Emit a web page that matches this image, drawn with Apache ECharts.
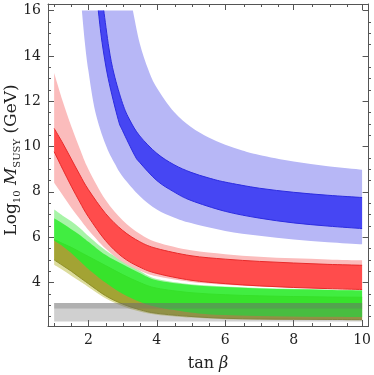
<!DOCTYPE html>
<html>
<head>
<meta charset="utf-8">
<script src="https://cdn.jsdelivr.net/npm/echarts@6/dist/echarts.min.js"></script>
<style>
html,body{margin:0;padding:0;background:#fff}
#chart{width:374px;height:375px}
</style>
</head>
<body>
<div id="chart"></div>
<script>
// tick positions
var xMajor = [2, 4, 6, 8, 10];
var xMinor = [1, 1.5, 2.5, 3, 3.5, 4.5, 5, 5.5, 6.5, 7, 7.5, 8.5, 9, 9.5];
var yMajor = [4, 6, 8, 10, 12, 14, 16];
var yMinor = [2.5, 3, 3.5, 4.5, 5, 5.5, 6.5, 7, 7.5, 8.5, 9, 9.5, 10.5, 11, 11.5, 12.5, 13, 13.5, 14.5, 15, 15.5];

// blue band (clipped at 16 on top)
var blueLightLowX = [1.81, 1.9, 2.0, 2.2, 2.5, 2.77, 3.0, 3.5, 4.0, 4.5, 5, 6, 7, 8, 9, 10];
var blueLightLowY = [16, 14.55, 13.35, 11.55, 10.1, 9.25, 8.68, 7.82, 7.22, 6.87, 6.62, 6.27, 6.06, 5.9, 5.78, 5.69];
var blueLightUpX = [3.3, 3.5, 3.75, 4.0, 4.5, 5, 5.5, 6, 6.5, 7, 8, 9, 10];
var blueLightUpY = [16, 14.56, 13.4, 12.59, 11.53, 10.86, 10.41, 10.08, 9.83, 9.63, 9.34, 9.13, 8.98];
var blueDarkLowX = [2.29, 2.4, 2.58, 2.87, 3.0, 3.35, 3.5, 4.0, 4.5, 5, 6, 7, 8, 9, 10];
var blueDarkLowY = [16, 14.6, 13.0, 11.2, 10.7, 9.62, 9.3, 8.5, 8.0, 7.62, 7.14, 6.84, 6.63, 6.49, 6.38];
var blueDarkUpX = [2.45, 2.6, 2.75, 3.0, 3.21, 3.5, 4.0, 4.5, 5, 5.5, 6, 7, 8, 9, 10];
var blueDarkUpY = [16, 14.35, 13.2, 11.9, 11.17, 10.47, 9.7, 9.2, 8.86, 8.62, 8.43, 8.16, 7.98, 7.85, 7.75];

// red, green, olive bands share these tan(beta) samples
var tanB = [1, 1.25, 1.5, 1.75, 2, 2.5, 3, 3.5, 4, 5, 6, 7, 8, 9, 10];
var redLightUp = [13.25, 12.0, 10.9, 9.9, 9.0, 7.65, 6.75, 6.15, 5.78, 5.42, 5.25, 5.14, 5.07, 5.02, 4.98];
var redDarkUp = [10.8, 10.15, 9.45, 8.75, 8.1, 7.05, 6.3, 5.8, 5.5, 5.18, 5.03, 4.93, 4.86, 4.8, 4.76];
var redDarkLow = [9.77, 9.0, 8.25, 7.55, 6.9, 5.85, 5.12, 4.68, 4.4, 4.1, 3.95, 3.85, 3.78, 3.73, 3.69];
var redLightLow = [8.4, 7.85, 7.3, 6.8, 6.32, 5.5, 4.9, 4.52, 4.27, 4.02, 3.9, 3.82, 3.76, 3.71, 3.68];

var greenLightUp = [7.22, 6.95, 6.7, 6.4, 6.05, 5.42, 4.95, 4.52, 4.15, 3.92, 3.82, 3.76, 3.72, 3.69, 3.67];
var greenDarkUp = [6.83, 6.6, 6.35, 6.1, 5.8, 5.22, 4.8, 4.42, 4.1, 3.89, 3.8, 3.74, 3.7, 3.67, 3.65];
var greenLow = [5.85, 5.6, 5.3, 4.95, 4.6, 4.0, 3.5, 3.15, 2.92, 2.68, 2.56, 2.52, 2.5, 2.49, 2.48];

var oliveUp = [5.9, 5.72, 5.55, 5.35, 5.15, 4.75, 4.35, 4.0, 3.75, 3.55, 3.46, 3.41, 3.38, 3.36, 3.35];
var oliveDarkLow = [5.0, 4.75, 4.5, 4.22, 3.95, 3.42, 3.05, 2.8, 2.64, 2.5, 2.42, 2.39, 2.38, 2.37, 2.36];
var oliveLightLow = [4.78, 4.55, 4.3, 4.05, 3.8, 3.3, 2.95, 2.72, 2.58, 2.45, 2.38, 2.36, 2.35, 2.34, 2.33];

// grey horizontal band
var grayX = [1, 10];
var grayLow = [2.28, 2.28];
var grayUp = [3.1, 3.1];
var grayStripLow = [2.85, 2.85];

var font = "'DejaVu Serif', 'Liberation Serif', serif";

// catmull-rom through the pixel points -> bezier path commands
var smoothPath = function(p, start){
  var d = start ? 'M' + p[0][0] + ' ' + p[0][1] : 'L' + p[0][0] + ' ' + p[0][1];
  for (var i = 0; i < p.length - 1; i++) {
    var p0 = p[i - 1] || p[i], p1 = p[i], p2 = p[i + 1], p3 = p[i + 2] || p2;
    var c1 = [p1[0] + (p2[0] - p0[0]) / 6, p1[1] + (p2[1] - p0[1]) / 6];
    var c2 = [p2[0] - (p3[0] - p1[0]) / 6, p2[1] - (p3[1] - p1[1]) / 6];
    d += 'C' + c1[0] + ' ' + c1[1] + ' ' + c2[0] + ' ' + c2[1] + ' ' + p2[0] + ' ' + p2[1];
  }
  return d;
};

var band = function(lowX, lowY, upX, upY, fill, edge){
  return {
    type: 'custom',
    xAxisIndex: 0,
    yAxisIndex: 0,
    silent: true,
    clip: true,
    data: [[5, 5]],
    renderItem: function(params, api){
      var low = [], up = [], i;
      for (i = 0; i < lowX.length; i++) low.push(api.coord([lowX[i], lowY[i]]));
      for (i = 0; i < upX.length; i++) up.push(api.coord([upX[i], upY[i]]));
      var upRev = up.slice().reverse();
      var children = [{
        type: 'path',
        shape: {pathData: smoothPath(low, true) + smoothPath(upRev, false) + 'Z'},
        style: {fill: fill, stroke: null}
      }];
      if (edge) {
        children.push({type: 'path', shape: {pathData: smoothPath(low, true)}, style: {stroke: edge, lineWidth: 1, fill: null}});
        children.push({type: 'path', shape: {pathData: smoothPath(up, true)}, style: {stroke: edge, lineWidth: 1, fill: null}});
      }
      return {type: 'group', children: children};
    }
  };
};

var frame = '#555';
var axisBase = function(pos, major, labels){
  return {
    type: 'value',
    position: pos,
    axisLine: {show: true, onZero: false, lineStyle: {color: frame, width: 1}},
    axisTick: {show: true, inside: true, length: 6, customValues: major, lineStyle: {color: frame}},
    axisLabel: labels ? {show: true, customValues: major, fontFamily: font, fontSize: 14, color: '#222', margin: 7} : {show: false},
    splitLine: {show: false}
  };
};
var axisMinor = function(pos, minor){
  return {
    type: 'value',
    position: pos,
    axisLine: {show: false},
    axisTick: {show: true, inside: true, length: 3, customValues: minor, lineStyle: {color: frame}},
    axisLabel: {show: false},
    splitLine: {show: false}
  };
};

var xRange = {min: 0.82, max: 10.19};
var yRange = {min: 2.08, max: 16.29};

var xAxes = [
  Object.assign(axisBase('bottom', xMajor, true), xRange, {gridIndex: 0}),
  Object.assign(axisBase('top', xMajor, false), xRange, {gridIndex: 0}),
  Object.assign(axisMinor('bottom', xMinor), xRange, {gridIndex: 1}),
  Object.assign(axisMinor('top', xMinor), xRange, {gridIndex: 1})
];
var yAxes = [
  Object.assign(axisBase('left', yMajor, true), yRange, {gridIndex: 0}),
  Object.assign(axisBase('right', yMajor, false), yRange, {gridIndex: 0}),
  Object.assign(axisMinor('left', yMinor), yRange, {gridIndex: 1}),
  Object.assign(axisMinor('right', yMinor), yRange, {gridIndex: 1})
];

var chart = echarts.init(document.getElementById('chart'), null, {renderer: 'canvas'});
chart.setOption({
  animation: false,
  backgroundColor: '#fff',
  grid: [
    {left: 48, right: 3, top: 4, bottom: 49},
    {left: 48, right: 3, top: 4, bottom: 49}
  ],
  xAxis: xAxes,
  yAxis: yAxes,
  series: [
    band(tanB, oliveLightLow, tanB, oliveUp, '#dcdc9c', null),
    band(tanB, oliveDarkLow, tanB, oliveUp, '#a3a334', '#8f8f28'),
    band(tanB, greenLow, tanB, greenLightUp, 'rgba(60,230,60,0.45)', null),
    band(tanB, greenLow, tanB, greenDarkUp, 'rgba(40,235,40,0.8)', null),
    band(tanB, redLightLow, tanB, redLightUp, '#fbbcbc', null),
    band(tanB, redDarkLow, tanB, redDarkUp, '#ff4c4c', '#e82a2a'),
    band(blueLightLowX, blueLightLowY, blueLightUpX, blueLightUpY, '#b7b7f6', null),
    band(blueDarkLowX, blueDarkLowY, blueDarkUpX, blueDarkUpY, '#4646f3', '#2c2ce0'),
    band(grayX, grayLow, grayX, grayUp, 'rgba(110,110,110,0.32)', null),
    band(grayX, grayStripLow, grayX, grayUp, 'rgba(110,110,110,0.32)', null)
  ],
  graphic: [
    {
      type: 'text', x: 208, y: 364,
      style: {
        text: 'tan {b|β}',
        fill: '#222', font: '16px ' + font,
        textAlign: 'center', textVerticalAlign: 'middle',
        rich: {b: {fontFamily: font, fontSize: 16, fontStyle: 'italic', fill: '#222'}}
      }
    },
    {
      type: 'text', x: 12, y: 160, rotation: Math.PI / 2,
      style: {
        text: '{n|Log}{s|10}{n| }{i|M}{s|SUSY}{n| (GeV)}',
        fill: '#222', font: '17px ' + font,
        textAlign: 'center', textVerticalAlign: 'middle',
        rich: {
          n: {fontFamily: font, fontSize: 17, lineHeight: 20, verticalAlign: 'middle', fill: '#222'},
          i: {fontFamily: font, fontSize: 17, lineHeight: 20, fontStyle: 'italic', verticalAlign: 'middle', fill: '#222'},
          s: {fontFamily: font, fontSize: 10, lineHeight: 10, verticalAlign: 'bottom', fill: '#222'}
        }
      }
    }
  ]
});
</script>
</body>
</html>
